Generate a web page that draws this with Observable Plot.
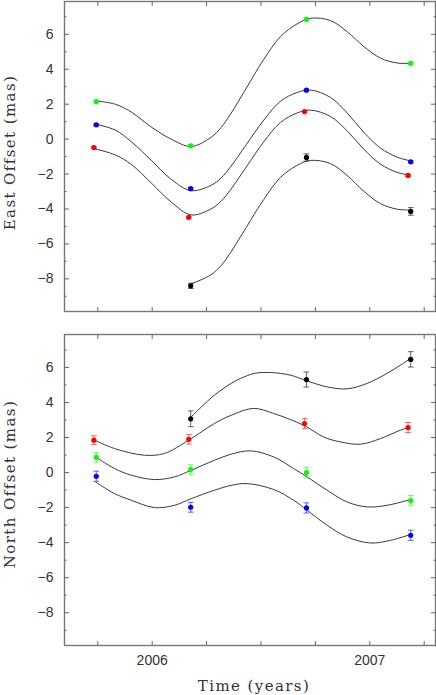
<!DOCTYPE html>
<html><head><meta charset="utf-8">
<script src="https://cdn.jsdelivr.net/npm/d3@7"></script>
<script src="https://cdn.jsdelivr.net/npm/@observablehq/plot@0.6"></script>
<style>
body{margin:0;background:#fff;}
#chart{width:436px;height:695px;}
#chart svg{display:block;}
.ttl{letter-spacing:1.4px;}
</style></head><body><div id="chart"></div>
<script>
// ---- Data ----
const seriesNames = ["green", "blue", "red", "black"];
const seriesColors = ["#00ff00", "#0000ff", "#ff0000", "#000000"];

// epochs (years) per series
const tGreen = [2005.743, 2006.177, 2006.709, 2007.188];
const tBlue  = [2005.743, 2006.177, 2006.709, 2007.188];
const tRed   = [2005.732, 2006.168, 2006.700, 2007.176];
const tBlack = [2006.177, 2006.709, 2007.188];

// East offsets (mas) and errors
const eastGreen = [2.15, -0.38, 6.86, 4.34];
const eastBlue  = [0.82, -2.84, 2.80, -1.30];
const eastRed   = [-0.48, -4.48, 1.58, -2.08];
const eastBlack = [-8.40, -1.05, -4.14];
const eastErrGreen = [0.06, 0.06, 0.06, 0.06];
const eastErrBlue  = [0.06, 0.06, 0.06, 0.06];
const eastErrRed   = [0.06, 0.06, 0.06, 0.06];
const eastErrBlack = [0.15, 0.21, 0.22];

// North offsets (mas) and errors
const northGreen = [0.87, 0.17, 0.00, -1.60];
const northBlue  = [-0.21, -1.98, -2.02, -3.58];
const northRed   = [1.85, 1.90, 2.80, 2.57];
const northBlack = [3.07, 5.31, 6.46];
const northErrGreen = [0.27, 0.27, 0.30, 0.29];
const northErrBlue  = [0.29, 0.28, 0.29, 0.29];
const northErrRed   = [0.25, 0.27, 0.29, 0.29];
const northErrBlack = [0.45, 0.43, 0.44];

// Fitted curves
const fitEastT = [2005.740, 2005.830, 2005.904, 2005.995, 2006.087, 2006.179, 2006.270, 2006.317, 2006.360, 2006.432, 2006.513, 2006.589, 2006.666, 2006.727, 2006.819, 2006.896, 2006.972, 2007.049, 2007.125, 2007.182];
const fitEastGreenV = [2.19, 2.0, 1.55, 0.7, 0.0, -0.42, 0.10, 0.67, 1.43, 2.91, 4.57, 5.86, 6.60, 6.92, 6.79, 6.15, 5.31, 4.64, 4.36, 4.34];
const fitEastBlueV  = [0.86, 0.52, -0.15, -1.2, -2.3, -2.95, -2.65, -2.22, -1.59, -0.32, 1.09, 2.16, 2.67, 2.81, 2.39, 1.5, 0.4, -0.51, -1.03, -1.23];
const fitEastRedV   = [-0.57, -0.9, -1.45, -2.5, -3.6, -4.34, -4.0, -3.55, -2.9, -1.6, -0.15, 0.95, 1.5, 1.66, 1.3, 0.47, -0.57, -1.43, -1.9, -2.06];
const fitEastBlackT = [2006.179, 2006.270, 2006.317, 2006.360, 2006.432, 2006.513, 2006.589, 2006.666, 2006.727, 2006.819, 2006.896, 2006.972, 2007.049, 2007.125, 2007.185];
const fitEastBlackV = [-8.29, -7.77, -7.23, -6.5, -5.06, -3.45, -2.2, -1.5, -1.22, -1.4, -2.08, -2.98, -3.69, -4.01, -4.06];

const fitNorthGreenT = [2005.740, 2005.827, 2005.904, 2006.011, 2006.102, 2006.179, 2006.286, 2006.363, 2006.452, 2006.559, 2006.650, 2006.712, 2006.804, 2006.896, 2006.988, 2007.079, 2007.186];
const fitNorthGreenV = [0.89, 0.23, -0.15, -0.40, -0.25, 0.13, 0.70, 1.05, 1.24, 0.89, 0.23, -0.25, -1.01, -1.68, -1.96, -1.87, -1.54];
const fitNorthBlueT  = [2005.740, 2005.827, 2005.904, 2006.011, 2006.102, 2006.179, 2006.286, 2006.363, 2006.436, 2006.559, 2006.650, 2006.712, 2006.804, 2006.896, 2007.003, 2007.095, 2007.186];
const fitNorthBlueV  = [-0.54, -1.2, -1.58, -2.0, -1.87, -1.49, -1.01, -0.73, -0.63, -0.97, -1.58, -2.15, -3.01, -3.68, -4.02, -3.87, -3.54];
const fitNorthRedT   = [2005.735, 2005.827, 2005.965, 2006.056, 2006.168, 2006.286, 2006.363, 2006.467, 2006.559, 2006.696, 2006.788, 2006.865, 2006.957, 2007.049, 2007.141, 2007.179];
const fitNorthRedV   = [1.85, 1.37, 0.99, 1.09, 1.85, 2.8, 3.27, 3.66, 3.37, 2.70, 2.03, 1.75, 1.62, 1.94, 2.42, 2.57];
const fitNorthBlackT = [2006.179, 2006.286, 2006.363, 2006.406, 2006.470, 2006.543, 2006.635, 2006.712, 2006.804, 2006.896, 2006.988, 2007.079, 2007.141, 2007.186];
const fitNorthBlackV = [3.18, 4.42, 5.09, 5.37, 5.66, 5.71, 5.56, 5.23, 4.89, 4.78, 5.09, 5.66, 6.13, 6.51];

// Axis ticks / labels
const yMajorTicks = [-8, -6, -4, -2, 0, 2, 4, 6];
const yMinorTicks = [-9, -7, -5, -3, -1, 1, 3, 5, 7];
const xTicks = [2005.75, 2006, 2006.25, 2006.5, 2006.75, 2007, 2007.25];
const xLabelTicks = [2006, 2007];
const xDomain = [2005.597, 2007.302];
const yDomain = [-9.87, 7.88];

// ---- Build tables ----
const times = [tGreen, tBlue, tRed, tBlack];
function pointsOf(vals, errs) {
  const rows = [];
  vals.forEach((arr, i) => arr.forEach((v, j) => rows.push({s: seriesNames[i], c: seriesColors[i], t: times[i][j], v, e: errs[i][j]})));
  return rows;
}
function fitsOf(ts, vs) {
  const rows = [];
  ts.forEach((arr, i) => arr.forEach((t, j) => rows.push({s: seriesNames[i], t, v: vs[i][j]})));
  return rows;
}
const eastPts = pointsOf([eastGreen, eastBlue, eastRed, eastBlack], [eastErrGreen, eastErrBlue, eastErrRed, eastErrBlack]);
const northPts = pointsOf([northGreen, northBlue, northRed, northBlack], [northErrGreen, northErrBlue, northErrRed, northErrBlack]);
const eastFit = fitsOf([fitEastT, fitEastT, fitEastT, fitEastBlackT], [fitEastGreenV, fitEastBlueV, fitEastRedV, fitEastBlackV]);
const northFit = fitsOf([fitNorthGreenT, fitNorthBlueT, fitNorthRedT, fitNorthBlackT], [fitNorthGreenV, fitNorthBlueV, fitNorthRedV, fitNorthBlackV]);

const tickColor = "#666";
const serif = "'DejaVu Serif', serif";

function panel({pts, fit, height, marginTop, marginBottom, ylabel, ylabelDy, bottomLabels}) {
  const marks = [
    Plot.frame({stroke: "#777", strokeWidth: 1.4}),
    // inward ticks
    Plot.axisY({anchor: "left", ticks: yMajorTicks, tickSize: -5, tickFormat: () => "", label: null, stroke: tickColor}),
    Plot.axisY({anchor: "left", ticks: yMinorTicks, tickSize: -2.5, tickFormat: () => "", label: null, stroke: tickColor}),
    Plot.axisY({anchor: "right", ticks: yMajorTicks, tickSize: -5, tickFormat: () => "", label: null, stroke: tickColor}),
    Plot.axisY({anchor: "right", ticks: yMinorTicks, tickSize: -2.5, tickFormat: () => "", label: null, stroke: tickColor}),
    Plot.axisX({anchor: "top", ticks: xTicks, tickSize: -4, tickFormat: () => "", label: null, stroke: tickColor}),
    Plot.axisX({anchor: "bottom", ticks: xTicks, tickSize: -4, tickFormat: () => "", label: null, stroke: tickColor}),
    // labels
    Plot.axisY({anchor: "left", ticks: yMajorTicks, tickSize: 0, tickPadding: 11, label: null}),
    Plot.text([ylabel], {text: d => d, frameAnchor: "left", dx: -54, dy: ylabelDy, rotate: -90, textAnchor: "middle", fontFamily: serif, fontSize: 15, fill: "#333", lineAnchor: "middle", className: "ttl"}),
    // fits
    Plot.line(fit, {x: "t", y: "v", z: "s", stroke: "#3a3a3a", strokeWidth: 1, curve: "catmull-rom"}),
    // error bars
    Plot.link(pts, {x1: "t", x2: "t", y1: d => d.v - d.e, y2: d => d.v + d.e, stroke: "c", strokeOpacity: 0.6, strokeWidth: 1, markerStart: "tick", markerEnd: "tick"}),
    // points
    Plot.dot(pts, {x: "t", y: "v", fill: "c", r: 2.6})
  ];
  if (bottomLabels) {
    marks.push(Plot.axisX({anchor: "bottom", ticks: xLabelTicks, tickSize: 0, tickPadding: 10, tickFormat: d => String(d), label: null}));
    marks.push(Plot.text(["Time (years)"], {text: d => d, frameAnchor: "bottom", dx: 4, dy: 41, textAnchor: "middle", fontFamily: serif, fontSize: 15, fill: "#333", lineAnchor: "middle", className: "ttl"}));
  }
  return Plot.plot({
    width: 436, height, marginTop, marginBottom, marginLeft: 64, marginRight: 1,
    x: {domain: xDomain},
    y: {domain: yDomain},
    color: {type: "identity"},
    style: {fontFamily: "'Liberation Sans', Arial, sans-serif", fontSize: "14px", color: "#333", background: "#fff", overflow: "visible"},
    marks
  });
}

const chart = document.getElementById("chart");
chart.appendChild(panel({pts: eastPts, fit: eastFit, height: 323, marginTop: 1, marginBottom: 12, ylabel: "East Offset (mas)", ylabelDy: -4, bottomLabels: false}));
chart.appendChild(panel({pts: northPts, fit: northFit, height: 372, marginTop: 11, marginBottom: 50, ylabel: "North Offset (mas)", ylabelDy: -6, bottomLabels: true}));
</script>
</body></html>
